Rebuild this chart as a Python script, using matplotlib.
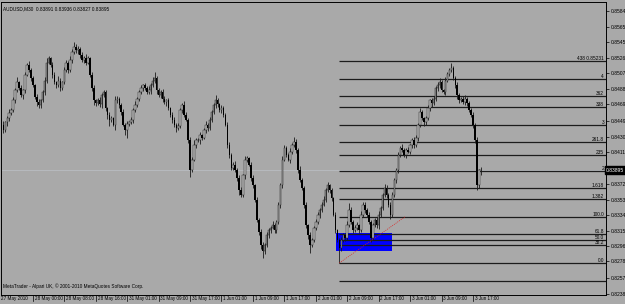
import numpy as np
import matplotlib
matplotlib.use("Agg")
import matplotlib.pyplot as plt
from matplotlib.transforms import blended_transform_factory, ScaledTranslation

plt.rcParams['font.family'] = ['Liberation Sans', 'DejaVu Sans']

# AUDUSD M30 closes, in pips (price = pips / 10000); open = previous close
first_open = 8450
close_pips = [
    8445, 8438, 8448, 8453, 8459, 8463, 8475, 8487, 8497, 8490,
    8481, 8487, 8506, 8518, 8512, 8502, 8493, 8479, 8473, 8469,
    8475, 8485, 8499, 8521, 8526, 8518, 8506, 8497, 8493, 8499,
    8490, 8497, 8512, 8521, 8512, 8524, 8534, 8540, 8536, 8538,
    8530, 8524, 8526, 8521, 8526, 8506, 8490, 8475, 8471, 8475,
    8470, 8481, 8485, 8465, 8457, 8451, 8453, 8445, 8475, 8477,
    8469, 8460, 8445, 8438, 8446, 8448, 8451, 8463, 8469, 8477,
    8485, 8490, 8493, 8490, 8485, 8487, 8493, 8499, 8502, 8487,
    8481, 8485, 8477, 8473, 8475, 8465, 8457, 8451, 8445, 8441,
    8443, 8463, 8469, 8457, 8451, 8426, 8390, 8402, 8420, 8426,
    8426, 8432, 8429, 8438, 8445, 8441, 8451, 8460, 8469, 8475,
    8470, 8463, 8465, 8457, 8445, 8420, 8408, 8392, 8396, 8390,
    8380, 8365, 8359, 8383, 8402, 8404, 8396, 8380, 8371, 8353,
    8329, 8314, 8298, 8290, 8298, 8310, 8316, 8319, 8322, 8316,
    8326, 8347, 8371, 8402, 8416, 8408, 8402, 8412, 8420, 8424,
    8414, 8390, 8377, 8368, 8347, 8322, 8310, 8298, 8304, 8319,
    8326, 8335, 8341, 8347, 8353, 8365, 8371, 8365, 8355, 8335,
    8316, 8304, 8294, 8304, 8310, 8307, 8322, 8341, 8326, 8316,
    8319, 8322, 8316, 8335, 8347, 8341, 8335, 8326, 8307, 8322,
    8329, 8322, 8335, 8343, 8359, 8368, 8359, 8347, 8335, 8359,
    8377, 8390, 8408, 8416, 8414, 8408, 8414, 8412, 8420, 8426,
    8420, 8429, 8445, 8460, 8453, 8448, 8453, 8465, 8475, 8471,
    8477, 8490, 8493, 8497, 8487, 8485, 8499, 8507, 8512, 8514,
    8502, 8493, 8481, 8475, 8477, 8473, 8477, 8471, 8463, 8457,
    8445, 8426, 8371, 8389, 8389.5,
]
up_wick = [
    3, 4, 2, 3, 5, 2, 4, 3, 6, 2,
    3, 2, 4, 3, 5, 2, 3, 2, 4, 3,
    2, 3, 4, 5, 3, 2, 4, 3, 2, 5,
    3, 2, 4, 3, 2, 5, 3, 6, 4, 3,
    2, 4, 3, 5, 3, 2, 3, 4, 2, 3,
    4, 3, 2, 3, 2, 4, 3, 2, 5, 3,
    2, 3, 4, 2, 3, 2, 4, 3, 5, 2,
    3, 4, 2, 3, 2, 5, 3, 4, 7, 2,
    3, 2, 4, 3, 2, 3, 2, 4, 3, 2,
    4, 3, 2, 5, 3, 2, 4, 3, 6, 3,
    3, 4, 2, 3, 5, 2, 4, 3, 2, 6,
    3, 2, 4, 3, 2, 3, 4, 2, 3, 5,
    2, 3, 4, 2, 5, 3, 2, 3, 4, 2,
    3, 2, 4, 3, 2, 4, 3, 2, 5, 3,
    2, 4, 3, 5, 4, 3, 2, 4, 3, 6,
    3, 2, 4, 3, 2, 3, 2, 4, 3, 2,
    4, 3, 2, 3, 5, 3, 4, 2, 3, 2,
    3, 2, 3, 4, 2, 3, 5, 8, 3, 2,
    3, 4, 2, 5, 3, 4, 2, 3, 2, 3,
    2, 3, 4, 2, 3, 5, 3, 2, 3, 4,
    3, 2, 4, 3, 5, 2, 3, 4, 2, 3,
    4, 3, 2, 5, 3, 2, 3, 4, 2, 3,
    3, 2, 4, 5, 3, 2, 4, 3, 2, 7,
    3, 2, 4, 3, 2, 3, 4, 2, 3, 2,
    3, 2, 4, 2, 4,
]
dn_wick = [
    5, 3, 2, 4, 3, 2, 3, 4, 2, 3,
    2, 4, 3, 2, 3, 4, 2, 3, 5, 3,
    3, 2, 4, 3, 2, 3, 4, 2, 3, 2,
    4, 3, 2, 3, 4, 2, 3, 2, 3, 4,
    3, 2, 4, 3, 2, 3, 4, 6, 3, 2,
    3, 4, 2, 3, 5, 8, 3, 2, 6, 3,
    4, 3, 2, 5, 9, 3, 2, 4, 3, 2,
    3, 2, 4, 3, 2, 3, 4, 2, 3, 4,
    2, 3, 4, 3, 5, 2, 3, 4, 3, 5,
    3, 2, 4, 3, 2, 3, 9, 3, 2, 3,
    2, 4, 3, 2, 3, 4, 2, 3, 2, 3,
    3, 2, 4, 3, 2, 3, 4, 3, 2, 3,
    4, 6, 3, 2, 4, 3, 2, 4, 3, 2,
    3, 4, 5, 8, 3, 2, 4, 3, 2, 3,
    3, 2, 4, 3, 2, 3, 2, 4, 3, 2,
    3, 4, 2, 3, 4, 3, 5, 10, 3, 2,
    3, 2, 4, 3, 2, 3, 2, 4, 3, 2,
    4, 3, 18, 3, 2, 4, 3, 2, 3, 4,
    2, 3, 4, 2, 3, 4, 3, 2, 5, 3,
    2, 3, 4, 3, 2, 3, 4, 3, 5, 3,
    2, 3, 4, 3, 2, 3, 4, 2, 3, 4,
    3, 2, 4, 3, 2, 4, 3, 2, 3, 4,
    2, 3, 4, 3, 2, 3, 4, 2, 3, 3,
    2, 3, 4, 3, 2, 3, 4, 3, 2, 3,
    4, 3, 6, 3, 6,
]

time_labels = ["27 May 2010", "28 May 00:00", "28 May 08:00", "28 May 16:00",
               "31 May 01:00", "31 May 09:00", "31 May 17:00", "1 Jun 01:00",
               "1 Jun 09:00", "1 Jun 17:00", "2 Jun 01:00", "2 Jun 09:00",
               "2 Jun 17:00", "3 Jun 01:00", "3 Jun 09:00", "3 Jun 17:00"]
bars_per_label = 16

price_ticks = [0.85840, 0.85650, 0.85459, 0.85269, 0.85079, 0.84888, 0.84698,
               0.84498, 0.84305, 0.84118, 0.83725, 0.83535, 0.83340, 0.83150,
               0.82962, 0.82780, 0.82570, 0.82380]
bid = 0.83895
header = "AUDUSD,M30  0.83891 0.83936 0.83827 0.83895"
footer = "MetaTrader - Alpari UK, \u00a9 2001-2010 MetaQuotes Software Corp."

# fibonacci expansion: anchors (bar, price) and levels
fib_bar0, fib_p0 = 172, 0.82759
fib_bar1, fib_p1 = 205.4, 0.83323
fib_levels = [-38.2, 0.0, 38.2, 50.0, 61.8, 100.0, 138.2, 161.8, 200.0, 235.0,
              261.8, 300.0, 338.0, 362.0, 400.0, 438.0]
fib_texts = ["", "0.0", "38.2", "50.0", "61.8", "100.0", "1.382", "1.618", "2",
             "235", "261.8", "3", "338", "362", "4", "438 0.85231"]

# blue rectangle (bars, prices)
rect_bars = (170.3, 198.8)
rect_prices = (0.82905, 0.83125)

bg = '#a9a9a9'
close = np.array(close_pips) / 1e4
open_ = np.r_[first_open / 1e4, close[:-1]]
high = np.maximum(open_, close) + np.array(up_wick) / 1e4
low = np.minimum(open_, close) - np.array(dn_wick) / 1e4
idx = np.arange(len(close))
bull = close >= open_

fig = plt.figure(figsize=(6.25, 3.04), dpi=100, facecolor=bg)
ax = fig.add_axes([1 / 625, 9 / 304, 605 / 625, 293 / 304], facecolor=bg)
xmax = 307.7
ax.set_xlim(-0.2, xmax)
ax.set_ylim(0.82367, 0.85951)

# rectangle object
ax.fill_between(rect_bars, rect_prices[0], rect_prices[1], color='#0000ff', lw=0, zorder=1)

# bid line
ax.axhline(bid, color='#b9bdc2', lw=0.6, zorder=1.5)

# candles
ax.vlines(idx, low, high, color='#1a1a1a', lw=0.6, zorder=2)
body_lo = np.minimum(open_, close)
body_h = np.maximum(np.abs(close - open_), 0.00005)
ax.bar(idx[bull], body_h[bull], bottom=body_lo[bull], width=0.78,
       color='#bdbdbd', edgecolor='#262626', lw=0.35, zorder=3)
ax.bar(idx[~bull], body_h[~bull], bottom=body_lo[~bull], width=0.78,
       color='#000000', lw=0, zorder=3)

# fibo expansion
for lev, txt in zip(fib_levels, fib_texts):
    p = fib_p0 + (fib_p1 - fib_p0) * lev / 100
    ax.hlines(p, fib_bar0, xmax, color='#1c1c1c', lw=0.9, zorder=2.5)
    if txt:
        ax.text(xmax - 1, p, txt, ha='right', va='bottom', fontsize=3.4, zorder=4)
ax.plot([fib_bar0, fib_bar1], [fib_p0, fib_p1], color='#e02020', lw=0.5,
        ls=(0, (1.5, 1.5)), zorder=2.6)

# axes styling
for s in ['left', 'top', 'right', 'bottom']:
    ax.spines[s].set_color('#000000')
    ax.spines[s].set_linewidth(0.7)
ax.yaxis.tick_right()
ax.set_yticks(price_ticks)
ax.set_yticklabels([f"{v:.5f}" for v in price_ticks])
ax.tick_params(axis='y', length=2, width=0.5, pad=1.5, labelsize=3.6)

tick_bars = np.arange(len(time_labels)) * bars_per_label
ax.set_xticks(tick_bars)
ax.set_xticklabels(time_labels, ha='left')
ax.tick_params(axis='x', length=0, pad=1.0, labelsize=3.3)
shift = ScaledTranslation(1.8 / 100, 0, fig.dpi_scale_trans)
for lab in ax.get_xticklabels()[1:]:
    lab.set_transform(lab.get_transform() + shift)
xt = blended_transform_factory(ax.transData, ax.transAxes)
for b in tick_bars[1:]:
    ax.plot([b, b], [0, -0.022], color='#000000', lw=0.5, transform=xt, clip_on=False)

ax.text(1.0, bid, "0.83895", transform=blended_transform_factory(ax.transAxes, ax.transData),
        ha='left', va='center', fontsize=3.6, color='white', zorder=5,
        bbox=dict(boxstyle='square,pad=0.25', facecolor='black', edgecolor='black'))
ax.text(0.004, 0.985, header, transform=ax.transAxes, ha='left', va='top', fontsize=3.4)
ax.text(0.004, 0.02, footer, transform=ax.transAxes, ha='left', va='bottom', fontsize=3.4)

fig.savefig("out.png", dpi=100, facecolor=bg)
